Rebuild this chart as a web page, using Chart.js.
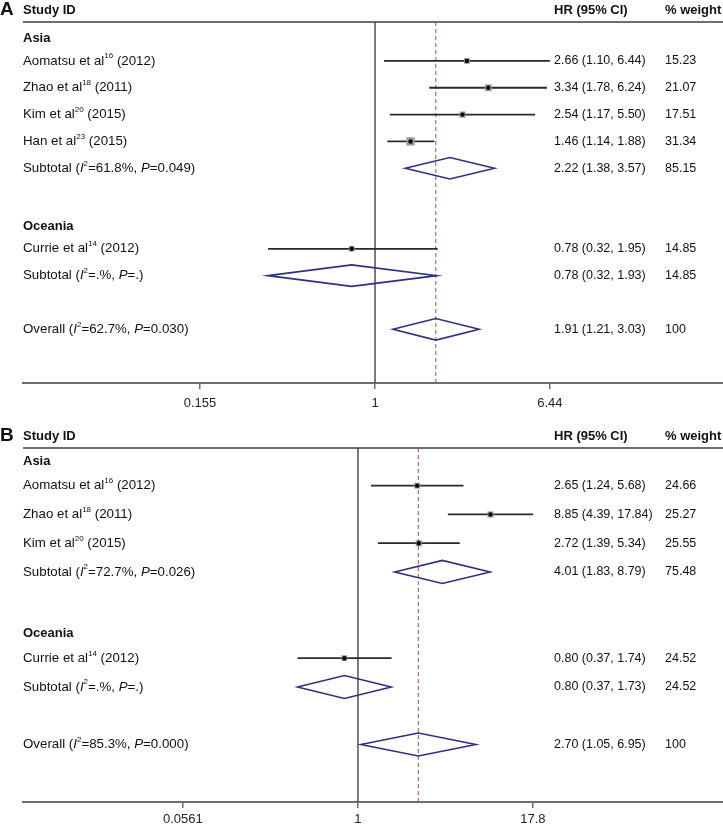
<!DOCTYPE html>
<html>
<head>
<meta charset="utf-8">
<script src="https://cdn.jsdelivr.net/npm/chart.js@4.4.0/dist/chart.umd.min.js"></script>
<style>
  body { margin: 0; background: #fff; }
  .panel { position: absolute; left: 0; width: 723px; height: 412px; }
</style>
</head>
<body>
<div class="panel" style="top:0"><canvas id="forestA"></canvas></div>
<div class="panel" style="top:412px"><canvas id="forestB"></canvas></div>
<script>
const FAMILY = "'Liberation Sans', Arial, sans-serif";

// Panel A
// ^..^ = superscript, _.._ = italic
const rowsA = ['Asia', 'Aomatsu et al^16^ (2012)', 'Zhao et al^18^ (2011)', 'Kim et al^20^ (2015)',
  'Han et al^23^ (2015)', 'Subtotal (_I_^2^=61.8%, _P_=0.049)', '', 'Oceania',
  'Currie et al^14^ (2012)', 'Subtotal (_I_^2^=.%, _P_=.)', '', 'Overall (_I_^2^=62.7%, _P_=0.030)'];
const kindA = ['group', 'study', 'study', 'study', 'study', 'pooled', '', 'group', 'study', 'pooled', '', 'overall'];
const hrA = [null, 2.66, 3.34, 2.54, 1.46, 2.22, null, null, 0.78, 0.78, null, 1.91];
const lowA = [null, 1.10, 1.78, 1.17, 1.14, 1.38, null, null, 0.32, 0.32, null, 1.21];
const highA = [null, 6.44, 6.24, 5.50, 1.88, 3.57, null, null, 1.95, 1.93, null, 3.03];
const weightA = [null, 15.23, 21.07, 17.51, 31.34, 85.15, null, null, 14.85, 14.85, null, 100];
const ticksA = [0.155, 1, 6.44];

// Panel B
const rowsB = ['Asia', 'Aomatsu et al^16^ (2012)', 'Zhao et al^18^ (2011)', 'Kim et al^20^ (2015)',
  'Subtotal (_I_^2^=72.7%, _P_=0.026)', '', 'Oceania', 'Currie et al^14^ (2012)',
  'Subtotal (_I_^2^=.%, _P_=.)', '', 'Overall (_I_^2^=85.3%, _P_=0.000)'];
const kindB = ['group', 'study', 'study', 'study', 'pooled', '', 'group', 'study', 'pooled', '', 'overall'];
const hrB = [null, 2.65, 8.85, 2.72, 4.01, null, null, 0.80, 0.80, null, 2.70];
const lowB = [null, 1.24, 4.39, 1.39, 1.83, null, null, 0.37, 0.37, null, 1.05];
const highB = [null, 5.68, 17.84, 5.34, 8.79, null, null, 1.74, 1.73, null, 6.95];
const weightB = [null, 24.66, 25.27, 25.55, 75.48, null, null, 24.52, 24.52, null, 100];
const ticksB = [0.0561, 1, 17.8];

function drawRich(ctx, str, x, y, size) {
  const parts = str.split(/(\^[^^]*\^|_[^_]*_)/).filter(s => s);
  for (const p of parts) {
    let t = p, dy = 0;
    ctx.font = size + 'px ' + FAMILY;
    if (p[0] === '^') {
      t = p.slice(1, -1);
      ctx.font = Math.round(size * 0.62) + 'px ' + FAMILY;
      dy = -size * 0.36;
    } else if (p[0] === '_') {
      t = p.slice(1, -1);
      ctx.font = 'italic ' + size + 'px ' + FAMILY;
    }
    ctx.fillText(t, x, y + dy);
    x += ctx.measureText(t).width;
  }
}

function forest(id, letter, rows, kind, hr, low, high, weight, ticks, xMin, xMax, yMin, yMax, top, axisH, box, tickPad) {
  const studies = [];
  hr.forEach((v, i) => { if (kind[i] === 'study') studies.push({ x: v, y: i, w: weight[i] }); });
  const overall = hr[kind.indexOf('overall')];

  const plugin = {
    id: 'forest' + letter,
    beforeDatasetsDraw(chart) {
      const { ctx, chartArea: a, scales: { x, y } } = chart;
      ctx.save();
      // header rule
      ctx.strokeStyle = '#6e6e6e';
      ctx.lineWidth = 2;
      ctx.beginPath(); ctx.moveTo(a.left, a.top); ctx.lineTo(a.right, a.top); ctx.stroke();
      // null line at 1
      const x1 = x.getPixelForValue(1);
      ctx.strokeStyle = '#444';
      ctx.lineWidth = 1.4;
      ctx.beginPath(); ctx.moveTo(x1, a.top); ctx.lineTo(x1, a.bottom); ctx.stroke();
      // overall estimate
      const xo = x.getPixelForValue(overall);
      ctx.strokeStyle = '#a0504f';
      ctx.lineWidth = 1;
      ctx.setLineDash([4, 3]);
      ctx.beginPath(); ctx.moveTo(xo, a.top); ctx.lineTo(xo, a.bottom); ctx.stroke();
      ctx.setLineDash([]);
      rows.forEach((r, i) => {
        if (hr[i] == null) return;
        const yp = y.getPixelForValue(i);
        if (kind[i] === 'study') {
          ctx.strokeStyle = '#2a2a2a';
          ctx.lineWidth = 1.8;
          ctx.beginPath();
          ctx.moveTo(x.getPixelForValue(low[i]), yp);
          ctx.lineTo(x.getPixelForValue(high[i]), yp);
          ctx.stroke();
        } else {
          const yt = y.getPixelForValue(i - 0.4), yb = y.getPixelForValue(i + 0.4);
          ctx.strokeStyle = '#2e3182';
          ctx.lineWidth = 1.6;
          ctx.beginPath();
          ctx.moveTo(x.getPixelForValue(low[i]), yp);
          ctx.lineTo(x.getPixelForValue(hr[i]), yt);
          ctx.lineTo(x.getPixelForValue(high[i]), yp);
          ctx.lineTo(x.getPixelForValue(hr[i]), yb);
          ctx.closePath();
          ctx.stroke();
        }
      });
      ctx.restore();
    },
    afterDraw(chart) {
      const { ctx, chartArea: a, scales: { y } } = chart;
      ctx.save();
      ctx.fillStyle = '#111';
      ctx.textBaseline = 'middle';
      const hy = a.top - 12;
      ctx.font = 'bold 19px ' + FAMILY;
      ctx.fillText(letter, 0, hy);
      ctx.font = 'bold 13px ' + FAMILY;
      ctx.fillText('Study ID', 23, hy);
      ctx.fillText('HR (95% CI)', 554, hy);
      ctx.fillText('% weight', 665, hy);
      rows.forEach((r, i) => {
        if (!r) return;
        const yp = y.getPixelForValue(i);
        if (kind[i] === 'group') {
          ctx.font = 'bold 13px ' + FAMILY;
          ctx.fillText(r, 23, y.getPixelForValue(i + 0.15));
          return;
        }
        drawRich(ctx, r, 23, yp, 13.3);
        if (hr[i] != null) {
          ctx.font = '12.5px ' + FAMILY;
          ctx.fillText(hr[i].toFixed(2) + ' (' + low[i].toFixed(2) + ', ' + high[i].toFixed(2) + ')', 554, yp);
          ctx.fillText(weight[i] === 100 ? '100' : weight[i].toFixed(2), 665, yp);
        }
      });
      ctx.restore();
    }
  };

  return new Chart(id, {
    type: 'scatter',
    data: {
      datasets: [{
        data: studies,
        pointRadius: 2.2,
        backgroundColor: '#000',
        borderWidth: 0
      }, {
        data: studies,
        pointStyle: 'rect',
        pointRadius: ctx => Math.sqrt(ctx.raw.w) * box,
        backgroundColor: '#9c9c9c',
        borderWidth: 0
      }]
    },
    options: {
      responsive: true,
      maintainAspectRatio: false,
      animation: false,
      layout: { autoPadding: false, padding: { left: 23, right: 0, top: top, bottom: 0 } },
      plugins: { legend: { display: false }, tooltip: { enabled: false } },
      scales: {
        x: {
          type: 'logarithmic',
          min: xMin,
          max: xMax,
          afterBuildTicks: s => { s.ticks = ticks.map(v => ({ value: v })); },
          afterFit: s => { s.height = axisH; },
          grid: { drawOnChartArea: false, drawTicks: true, tickLength: 6, color: '#6e6e6e', lineWidth: 1.5 },
          border: { color: '#6e6e6e', width: 2 },
          ticks: {
            color: '#222',
            padding: tickPad,
            maxRotation: 0,
            autoSkip: false,
            font: { family: FAMILY, size: 13 },
            callback: v => String(v)
          }
        },
        y: {
          type: 'linear',
          display: false,
          reverse: true,
          min: yMin,
          max: yMax
        }
      }
    },
    plugins: [plugin]
  });
}

forest('forestA', 'A', rowsA, kindA, hrA, lowA, highA, weightA, ticksA,
  0.02353, 40.7, -0.45, 13, 22, 29, 1.05, 7);
forest('forestB', 'B', rowsB, kindB, hrB, lowB, highB, weightB, ticksB,
  0.00404, 406, -0.31, 12, 36, 22, 0.85, 4);
</script>
</body>
</html>
